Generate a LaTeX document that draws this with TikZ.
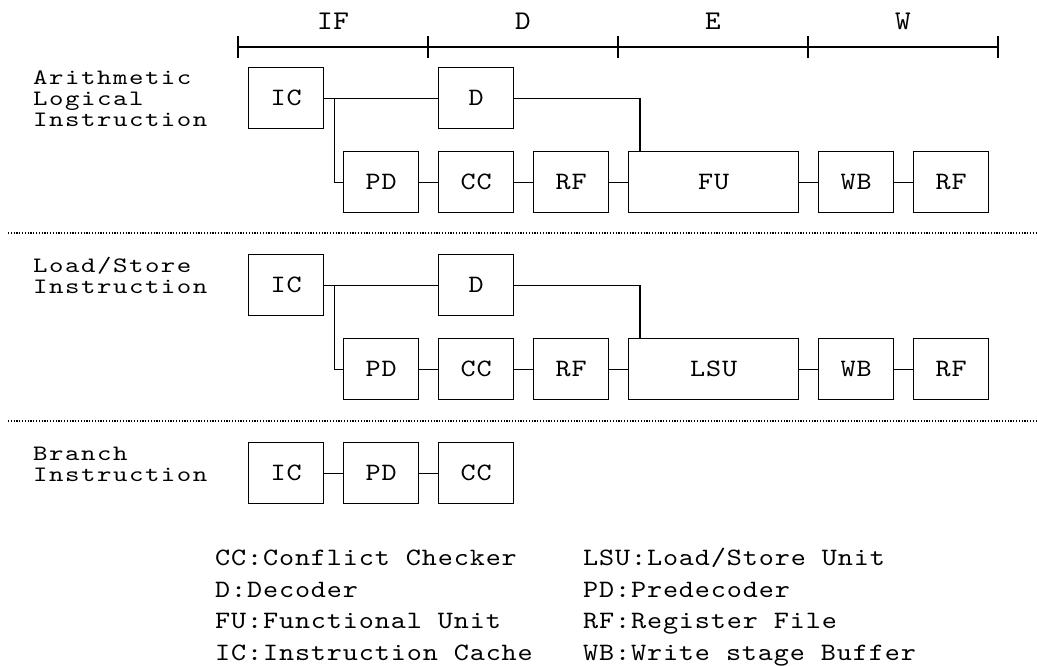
\documentclass[tikz,border=0pt]{standalone}
\usepackage{fontspec}
\newfontfamily\cour{lmmono10-regular}[Extension=.otf, FakeStretch=1.15, LetterSpace=3.5]
\newfontfamily\courrow{lmmono10-regular}[Extension=.otf, FakeStretch=1.25, LetterSpace=7]
\newfontfamily\courbig{lmmono10-regular}[Extension=.otf, FakeStretch=1.1, LetterSpace=3]
\begin{document}
\begin{tikzpicture}[x=1pt,y=-1pt,
  blk/.style={draw, line width=1.3pt, minimum width=75pt, minimum height=61pt,
    inner sep=0pt, anchor=north west, font=\cour\fontsize{25}{27}\selectfont},
  wide/.style={blk, minimum width=170pt},
  conn/.style={line width=1.3pt},
  lbl/.style={anchor=base west, inner sep=0pt, font=\cour\fontsize{25}{27}\selectfont},
  rowlbl/.style={anchor=base west, inner sep=0pt, font=\courrow\fontsize{22}{24}\selectfont},
  stagelbl/.style={anchor=base, inner sep=0pt, font=\courbig\fontsize{27}{29}\selectfont},
  sep/.style={line width=1.2pt, dash pattern=on 1.2pt off 1.6pt},
  axis/.style={line width=2pt}]
\useasboundingbox (0,0) rectangle (1037,665);

% timeline
\coordinate (t0) at (238,47);
\coordinate (t1) at (428,47);
\coordinate (t2) at (618,47);
\coordinate (t3) at (808,47);
\coordinate (t4) at (998,47);
\draw[axis] (t0) -- (t4);
\foreach \t in {t0,t1,t2,t3,t4}{\draw[axis] (\t) ++(0,-11) -- ++(0,22);}
\node[stagelbl] (sIF) at (333,29) {IF};
\node[stagelbl] (sD) at (523,29) {D};
\node[stagelbl] (sE) at (713,29) {E};
\node[stagelbl] (sW) at (903,29) {W};

% row 1
\node[rowlbl] (a1) at (33,84) {Arithmetic};
\node[rowlbl] (a2) at (33,105) {Logical};
\node[rowlbl] (a3) at (33,126) {Instruction};
\node[blk] (ic1) at (248,67) {IC};
\node[blk] (d1) at (438,67) {D};
\node[blk] (pd1) at (343,151) {PD};
\node[blk] (cc1) at (438,151) {CC};
\node[blk] (rf1) at (533,151) {RF};
\node[wide] (fu1) at (628,151) {FU};
\node[blk] (wb1) at (818,151) {WB};
\node[blk] (rg1) at (913,151) {RF};
\coordinate (j1) at ([xshift=12pt]fu1.north west);
\draw[conn] (ic1.east) -- (d1.west);
\draw[conn] (ic1.east) -- ++(10,0) |- (pd1.west);
\draw[conn] (d1.east) -| (j1);
\draw[conn] (pd1) -- (cc1);
\draw[conn] (cc1) -- (rf1);
\draw[conn] (rf1) -- (fu1);
\draw[conn] (fu1) -- (wb1);
\draw[conn] (wb1) -- (rg1);

\coordinate (s1a) at (8,233);
\coordinate (s1b) at (1037,233);
\draw[sep] (s1a) -- (s1b);

% row 2
\node[rowlbl] (b1) at (33,272) {Load/Store};
\node[rowlbl] (b2) at (33,293) {Instruction};
\node[blk] (ic2) at (248,254) {IC};
\node[blk] (d2) at (438,254) {D};
\node[blk] (pd2) at (343,338) {PD};
\node[blk] (cc2) at (438,338) {CC};
\node[blk] (rf2) at (533,338) {RF};
\node[wide] (lsu2) at (628,338) {LSU};
\node[blk] (wb2) at (818,338) {WB};
\node[blk] (rg2) at (913,338) {RF};
\coordinate (j2) at ([xshift=12pt]lsu2.north west);
\draw[conn] (ic2.east) -- (d2.west);
\draw[conn] (ic2.east) -- ++(10,0) |- (pd2.west);
\draw[conn] (d2.east) -| (j2);
\draw[conn] (pd2) -- (cc2);
\draw[conn] (cc2) -- (rf2);
\draw[conn] (rf2) -- (lsu2);
\draw[conn] (lsu2) -- (wb2);
\draw[conn] (wb2) -- (rg2);

\coordinate (s2a) at (8,421);
\coordinate (s2b) at (1037,421);
\draw[sep] (s2a) -- (s2b);

% row 3
\node[rowlbl] (c1) at (33,460) {Branch};
\node[rowlbl] (c2) at (33,481) {Instruction};
\node[blk] (ic3) at (248,442) {IC};
\node[blk] (pd3) at (343,442) {PD};
\node[blk] (cc3) at (438,442) {CC};
\draw[conn] (ic3) -- (pd3);
\draw[conn] (pd3) -- (cc3);

% legend
\node[lbl] (l1) at (215,565) {CC:Conflict Checker};
\node[lbl] (l2) at (215,597) {D:Decoder};
\node[lbl] (l3) at (215,628) {FU:Functional Unit};
\node[lbl] (l4) at (215,660) {IC:Instruction Cache};
\node[lbl] (r1) at (583,565) {LSU:Load/Store Unit};
\node[lbl] (r2) at (583,597) {PD:Predecoder};
\node[lbl] (r3) at (583,628) {RF:Register File};
\node[lbl] (r4) at (583,660) {WB:Write stage Buffer};
\end{tikzpicture}
\end{document}
